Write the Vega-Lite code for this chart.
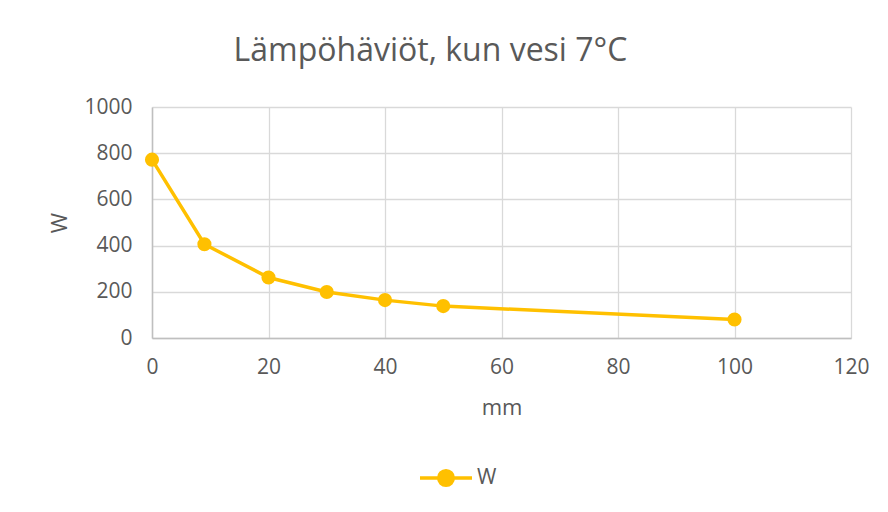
{
  "$schema": "https://vega.github.io/schema/vega-lite/v6.json",
  "width": 699,
  "height": 231,
  "autosize": {"type": "none"},
  "padding": {"left": 152, "top": 107, "right": 37, "bottom": 174},
  "background": "white",
  "title": {
    "text": "Lämpöhäviöt, kun vesi 7°C",
    "font": "Open Sans",
    "fontSize": 32,
    "fontWeight": "normal",
    "color": "#595959",
    "anchor": "middle",
    "frame": "group",
    "dx": -71,
    "offset": 28
  },
  "data": {
    "values": [
      {"mm": 0, "W": 772, "series": "W"},
      {"mm": 9, "W": 406, "series": "W"},
      {"mm": 20, "W": 262, "series": "W"},
      {"mm": 30, "W": 199, "series": "W"},
      {"mm": 40, "W": 164, "series": "W"},
      {"mm": 50, "W": 138, "series": "W"},
      {"mm": 100, "W": 80, "series": "W"}
    ]
  },
  "mark": {
    "type": "line",
    "strokeWidth": 3.5,
    "point": {"size": 200, "filled": true, "opacity": 1}
  },
  "encoding": {
    "x": {
      "field": "mm",
      "type": "quantitative",
      "title": "mm",
      "scale": {"domain": [0, 120], "nice": false, "zero": true},
      "axis": {"values": [0, 20, 40, 60, 80, 100, 120], "labelFlush": false, "labelPadding": 18, "titlePadding": 20}
    },
    "y": {
      "field": "W",
      "type": "quantitative",
      "title": "W",
      "scale": {"domain": [0, 1000], "nice": false},
      "axis": {"values": [0, 200, 400, 600, 800, 1000], "format": "d", "labelFlush": false, "labelPadding": 20, "titlePadding": 12}
    },
    "color": {
      "field": "series",
      "type": "nominal",
      "scale": {"range": ["#FFC000"]},
      "legend": {
        "title": null,
        "orient": "none",
        "legendX": 266,
        "legendY": 343,
        "symbolType": "M -1 0 L -0.28 0 M 0.28 0 L 1 0 M 0.28 0 A 0.28 0.28 0 1 1 -0.28 0 A 0.28 0.28 0 1 1 0.28 0 Z",
        "symbolSize": 2704,
        "symbolStrokeWidth": 3.5,
        "symbolFillColor": "#FFC000",
        "symbolStrokeColor": "#FFC000",
        "labelFont": "Open Sans",
        "labelFontSize": 21,
        "labelColor": "#595959",
        "labelOffset": 3
      }
    }
  },
  "config": {
    "view": {"stroke": null},
    "axis": {
      "labelFont": "Open Sans",
      "labelFontSize": 21,
      "labelColor": "#595959",
      "titleFont": "Open Sans",
      "titleFontSize": 22,
      "titleFontWeight": "normal",
      "titleColor": "#595959",
      "ticks": false,
      "grid": true,
      "gridColor": "#d9d9d9",
      "gridWidth": 1.3,
      "domainColor": "#bfbfbf",
      "domainWidth": 1.5
    }
  }
}
